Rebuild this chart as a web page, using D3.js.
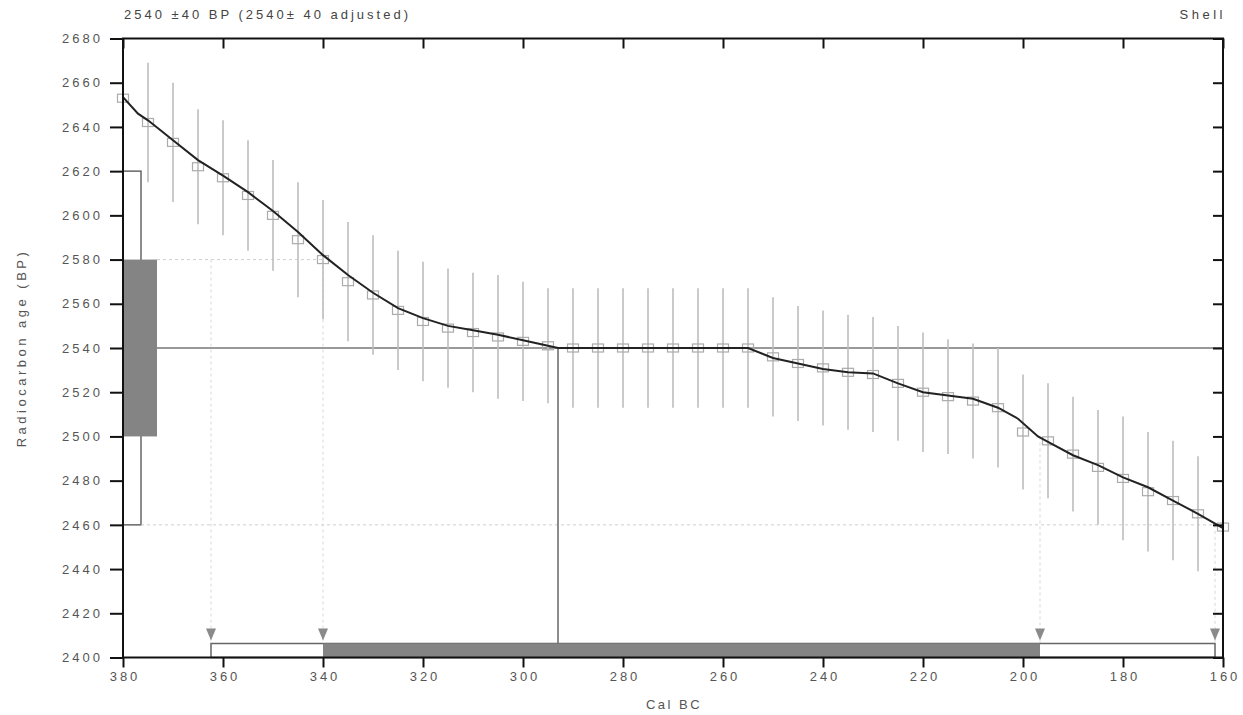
<!DOCTYPE html>
<html><head><meta charset="utf-8">
<script src="https://cdn.jsdelivr.net/npm/d3@7"></script>
<style>
html,body{margin:0;padding:0;background:#fff;}
svg{display:block;font-family:"Liberation Sans",Arial,sans-serif;}
</style></head>
<body>
<svg id="chart" width="1243" height="715"></svg>
<script>
// ---- data ----
const titleLeft = "2540 ±40  BP (2540± 40 adjusted)";
const titleRight = "Shell";
const xLabel = "Cal BC";
const yLabel = "Radiocarbon age (BP)";
const xTicks = [380,360,340,320,300,280,260,240,220,200,180,160];
const yTicks = [2400,2420,2440,2460,2480,2500,2520,2540,2560,2580,2600,2620,2640,2660,2680];

// calibration data points (Cal BC, BP, error)
const dataYears = [380,375,370,365,360,355,350,345,340,335,330,325,320,315,310,305,300,295,290,285,280,275,270,265,260,255,250,245,240,235,230,225,220,215,210,205,200,195,190,185,180,175,170,165,160];
const dataBP    = [2653,2642,2633,2622,2617,2609,2600,2589,2580,2570,2564,2557,2552,2549,2547,2545,2543,2541,2540,2540,2540,2540,2540,2540,2540,2540,2536,2533,2531,2529,2528,2524,2520,2518,2516,2513,2502,2498,2492,2486,2481,2475,2471,2465,2459];
const dataErr   = [27,27,27,26,26,25,25,26,27,27,27,27,27,27,27,28,27,26,27,27,27,27,27,27,27,27,27,26,26,26,26,26,27,26,26,27,26,26,26,26,28,27,27,26,26];

// calibration curve
const curveYears = [380,377,375,370,365,360,355,350,345,340,335,330,325,320,315,310,305,300,295,293,255,250,245,240,235,230,225,220,215,210,205,201,197,195,190,185,180,175,170,165,160];
const curveBP    = [2653.5,2646,2643,2634,2625,2618,2610.5,2602,2592.5,2582,2573,2565,2558,2553.5,2550,2548,2546,2543.5,2541,2540,2540,2535.5,2533,2530.5,2529,2528.5,2524,2520,2518.5,2517,2513,2508,2500,2497.5,2491.5,2487,2481.5,2477,2471,2465,2458.5];

// measured date
const dateBP = 2540;
const oneSigma = [2500, 2580];
const twoSigma = [2460, 2620];
const interceptYear = 293;
const range1 = [340, 196.6];
const range2 = [362.4, 161.6];

// ---- layout ----
const svg = d3.select("#chart");
const L = 123, R = 1223, T = 38.5, B = 657.5;
const x = d3.scaleLinear().domain([380,160]).range([L,R]);
const y = d3.scaleLinear().domain([2400,2680]).range([B,T]);

const g = svg.append("g");

// left date boxes
g.append("rect").attr("x", L).attr("y", y(twoSigma[1])).attr("width", 18)
  .attr("height", y(twoSigma[0]) - y(twoSigma[1])).attr("fill","none")
  .attr("stroke","#666").attr("stroke-width",1.5);
g.append("rect").attr("x", L).attr("y", y(oneSigma[1])).attr("width", 34)
  .attr("height", y(oneSigma[0]) - y(oneSigma[1])).attr("fill","#848484");

// dashed guide lines
const guide = {stroke:"#cfcfcf", dash:"3,3"};
g.append("line").attr("x1", L+34).attr("x2", x(range1[0])).attr("y1", y(oneSigma[1])).attr("y2", y(oneSigma[1]))
  .attr("stroke",guide.stroke).attr("stroke-dasharray",guide.dash);
g.append("line").attr("x1", L+18).attr("x2", R).attr("y1", y(twoSigma[0])).attr("y2", y(twoSigma[0]))
  .attr("stroke",guide.stroke).attr("stroke-dasharray",guide.dash);
const vGuides = [[range2[0], oneSigma[1]],[range1[0], oneSigma[1]],[range1[1], oneSigma[0]],[range2[1], twoSigma[0]]];
vGuides.forEach(([yr,bp]) => {
  g.append("line").attr("x1", x(yr)).attr("x2", x(yr)).attr("y1", y(bp)).attr("y2", B-14)
    .attr("stroke","#d8d8d8").attr("stroke-dasharray","3,3");
});

// date line
g.append("line").attr("x1", L+34).attr("x2", R).attr("y1", y(dateBP)).attr("y2", y(dateBP))
  .attr("stroke","#777").attr("stroke-width",1.5);

// error bars and points
const pts = dataYears.map((d,i)=>({yr:d, bp:dataBP[i], e:dataErr[i]}));
g.selectAll("line.err").data(pts).join("line").attr("class","err")
  .attr("x1", d=>x(d.yr)).attr("x2", d=>x(d.yr))
  .attr("y1", d=>y(d.bp + d.e)).attr("y2", d=>y(d.bp - d.e))
  .attr("stroke","#bdbdbd").attr("stroke-width",1.6);
g.selectAll("rect.pt").data(pts).join("rect").attr("class","pt")
  .attr("x", d=>x(d.yr)-5.5).attr("y", d=>y(d.bp)-4).attr("width",11).attr("height",8)
  .attr("fill","none").attr("stroke","#ababab").attr("stroke-width",1.2);

// intercept
g.append("line").attr("x1", x(interceptYear)).attr("x2", x(interceptYear)).attr("y1", y(dateBP)).attr("y2", B-14)
  .attr("stroke","#666").attr("stroke-width",1.5);

// curve
const cpts = curveYears.map((d,i)=>[d, curveBP[i]]);
g.append("path").datum(cpts)
  .attr("d", d3.line().x(d=>x(d[0])).y(d=>y(d[1])))
  .attr("fill","none").attr("stroke","#222").attr("stroke-width",2);

// bottom range bars
g.append("rect").attr("x", x(range2[0])).attr("y", B-14).attr("width", x(range2[1]) - x(range2[0])).attr("height", 14)
  .attr("fill","none").attr("stroke","#666").attr("stroke-width",1.5);
g.append("rect").attr("x", x(range1[0])).attr("y", B-14).attr("width", x(range1[1]) - x(range1[0])).attr("height", 14)
  .attr("fill","#848484");
[range2[0], range1[0], range1[1], range2[1]].forEach(yr => {
  const cx = x(yr);
  g.append("path").attr("d", `M${cx-5},${B-29}L${cx+5},${B-29}L${cx},${B-17}Z`).attr("fill","#8a8a8a");
});

// frame
g.append("rect").attr("x", L).attr("y", T).attr("width", R-L).attr("height", B-T)
  .attr("fill","none").attr("stroke","#111").attr("stroke-width",2);

// axes
const fontStyle = s => s.attr("font-size", 13).attr("fill","#555").attr("letter-spacing", 3);
const ax = g.append("g").attr("transform", `translate(0,${B})`)
  .call(d3.axisBottom(x).tickValues(xTicks).tickSize(10).tickSizeOuter(0).tickPadding(4).tickFormat(d3.format("d")));
ax.select(".domain").remove();
ax.selectAll("line").attr("stroke","#111").attr("stroke-width",2);
ax.selectAll("text").call(fontStyle).attr("dx", 1.5);

const ay = g.append("g").attr("transform", `translate(${L},0)`)
  .call(d3.axisLeft(y).tickValues(yTicks).tickSize(13).tickSizeOuter(0).tickPadding(7).tickFormat(d3.format("d")));
ay.select(".domain").remove();
ay.selectAll("line").attr("stroke","#111").attr("stroke-width",2);
ay.selectAll("text").call(fontStyle);

const at = g.append("g").attr("transform", `translate(0,${T})`)
  .call(d3.axisTop(x).tickValues(xTicks).tickSize(-10).tickSizeOuter(0).tickFormat(""));
at.select(".domain").remove();
at.selectAll("line").attr("stroke","#111").attr("stroke-width",2);

const ar = g.append("g").attr("transform", `translate(${R},0)`)
  .call(d3.axisRight(y).tickValues(yTicks).tickSize(-10).tickSizeOuter(0).tickFormat(""));
ar.select(".domain").remove();
ar.selectAll("line").attr("stroke","#111").attr("stroke-width",2);

// titles
svg.append("text").attr("x", L+1).attr("y", 19).attr("font-size",13).attr("letter-spacing",3).attr("fill","#444").text(titleLeft);
svg.append("text").attr("x", R+3).attr("y", 19).attr("font-size",13).attr("letter-spacing",3.5).attr("fill","#444").attr("text-anchor","end").text(titleRight);
svg.append("text").attr("x", (L+R)/2+1).attr("y", 709).attr("font-size",13).attr("letter-spacing",2.5).attr("fill","#555").attr("text-anchor","middle").text(xLabel);
svg.append("text").attr("transform", `translate(26,${(T+B)/2}) rotate(-90)`).attr("font-size",13).attr("letter-spacing",3.5).attr("fill","#555")
  .attr("text-anchor","middle").text(yLabel);
</script>
</body></html>
